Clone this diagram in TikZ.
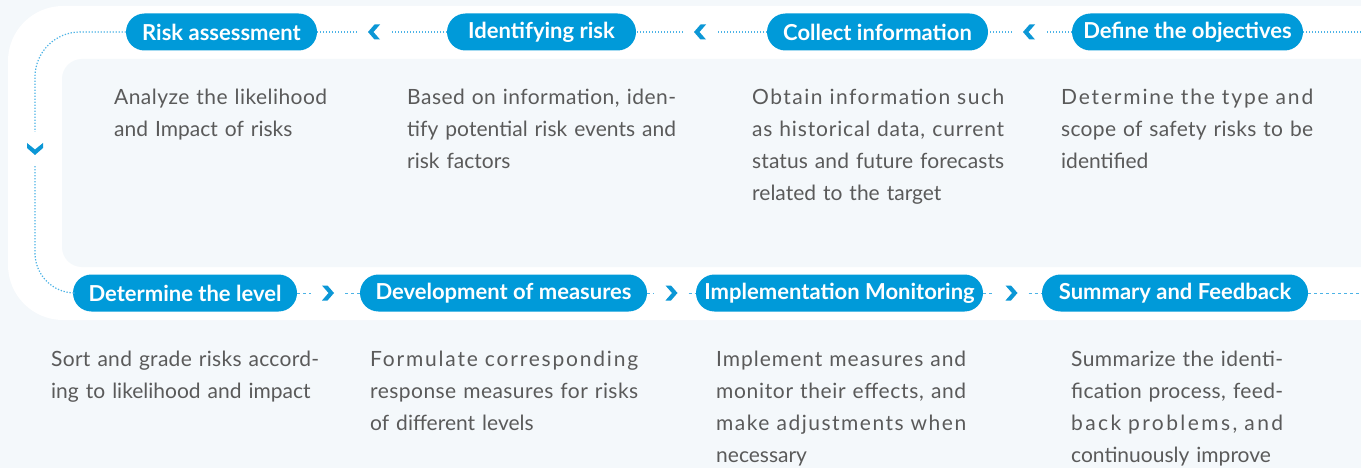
\documentclass[tikz,border=0pt]{standalone}
\usepackage{fontspec}
\setmainfont{Lato}
\definecolor{bgc}{HTML}{F4F8FB}
\definecolor{pillc}{HTML}{009AD9}
\definecolor{chevc}{HTML}{0B97D6}
\definecolor{linec}{HTML}{4CB3E6}
\definecolor{textc}{HTML}{5A5A5A}
\newlength\jlA
\newlength\jlB
\newcommand\JL[2]{%
  \settowidth\jlA{#2}%
  \settowidth\jlB{\addfontfeature{LetterSpace=10}#2}%
  \pgfmathsetmacro\jlls{max(0,10*(#1-\jlA)/(\jlB-\jlA))}%
  \leavevmode\hbox to #1pt{\addfontfeature{LetterSpace=\jlls}\spaceskip=0.26em plus 3em minus 0.05em\relax #2}}
\tikzset{
  pill/.style={fill=pillc, text=white, rounded corners=18.5, minimum height=37, inner sep=0,
    font=\fontsize{22}{26}\selectfont\bfseries},
  chevleft/.style={minimum width=34, minimum height=22, inner sep=0,
    path picture={\fill[chevc,shift={(path picture bounding box.center)}] (-6,0) -- (0.5,-7.5) -- (6,-7.5) -- (-0.5,0) -- (6,7.5) -- (0.5,7.5) -- cycle;}},
  chevright/.style={minimum width=34, minimum height=22, inner sep=0,
    path picture={\fill[chevc,shift={(path picture bounding box.center)}] (6,0) -- (-0.5,-7.5) -- (-6,-7.5) -- (0.5,0) -- (-6,7.5) -- (-0.5,7.5) -- cycle;}},
  chevdown/.style={minimum width=24, minimum height=34, inner sep=0,
    path picture={\fill[chevc,shift={(path picture bounding box.center)}] (-8,-6) -- (0,0.5) -- (8,-6) -- (8,-1) -- (0,6) -- (-8,-1) -- cycle;}},
  dotline/.style={draw=linec, line width=1.2, dash pattern=on 1.3pt off 1.7pt},
  dashline/.style={draw=linec, line width=0.9, dash pattern=on 3pt off 3pt},
  body/.style={anchor=base west, inner sep=0, align=left, text=textc,
    font=\fontsize{21}{32}\selectfont},
}
\begin{document}
\begin{tikzpicture}[x=1pt,y=-1pt]
\useasboundingbox (0,0) rectangle (1361,468);
\fill[bgc] (0,0) rectangle (1361,468);
\begin{scope}
\clip (0,0) rectangle (1361,468);
\fill[white, rounded corners=55] (8,6) rectangle (1420,320);
\fill[bgc, rounded corners=20] (62,59) rectangle (1420,267);
\end{scope}

% top row
\node[pill, minimum width=191] (ra) at (221.5,32) {Risk assessment};
\node[pill, minimum width=189] (ir) at (541.5,32) {Identifying risk};
\node[pill, minimum width=221] (ci) at (877.5,32) {Collect information};
\node[pill, minimum width=231] (do) at (1187.5,32) {Define the objectives};
\node[chevleft] (c1) at (374,32) {};
\node[chevleft] (c2) at (700,32) {};
\node[chevleft] (c3) at (1029,32) {};
\coordinate (re1) at (1361,32);

% bottom row
\node[pill, minimum width=224] (dl) at (185,293) {Determine the level};
\node[pill, minimum width=287] (dm) at (503.5,293) {Development of measures};
\node[pill, minimum width=287] (im) at (839.5,293) {Implementation Monitoring};
\node[pill, minimum width=266] (sf) at (1175,293) {Summary and Feedback};
\node[chevright] (c4) at (328,293) {};
\node[chevright] (c5) at (671.5,293) {};
\node[chevright] (c6) at (1011.5,293) {};
\coordinate (re2) at (1361,293);

\node[chevdown] (cd) at (35,149) {};

% connectors
\draw[dotline] (re1) -- (do.east);
\draw[dotline] (do.west) -- (c3.east);
\draw[dotline] (c3.west) -- (ci.east);
\draw[dotline] (ci.west) -- (c2.east);
\draw[dotline] (c2.west) -- (ir.east);
\draw[dotline] (ir.west) -- (c1.east);
\draw[dotline] (c1.west) -- (ra.east);
\draw[dotline, rounded corners=45] (ra.west) -| (cd.north);
\draw[dotline, rounded corners=40] (cd.south) |- (dl.west);
\draw[dashline] (dl.east) -- (c4.west);
\draw[dashline] (c4.east) -- (dm.west);
\draw[dashline] (dm.east) -- (c5.west);
\draw[dashline] (c5.east) -- (im.west);
\draw[dashline] (im.east) -- (c6.west);
\draw[dashline] (c6.east) -- (sf.west);
\draw[dashline] (sf.east) -- (re2);

% texts top
\node[body, text width=270] (t1) at (114,105) {\JL{213}{Analyze the likelihood}\\and Impact of risks};
\node[body, text width=280] (t2) at (407,105) {\JL{269}{Based on information, iden-}\\\JL{269}{tify potential risk events and}\\risk factors};
\node[body, text width=280] (t3) at (752,105) {\JL{252}{Obtain information such}\\\JL{252}{as historical data, current}\\\JL{252}{status and future forecasts}\\related to the target};
\node[body, text width=280] (t4) at (1061,105) {\JL{252}{Determine the type and}\\\JL{252}{scope of safety risks to be}\\identified};
% texts bottom
\node[body, text width=280] (t5) at (51,366) {\JL{268}{Sort and grade risks accord-}\\ing to likelihood and impact};
\node[body, text width=280] (t6) at (370,366) {\JL{268}{Formulate corresponding}\\\JL{268}{response measures for risks}\\of different levels};
\node[body, text width=280] (t7) at (716,366) {\JL{250}{Implement measures and}\\\JL{250}{monitor their effects, and}\\\JL{250}{make adjustments when}\\necessary};
\node[body, text width=280] (t8) at (1071,366) {\JL{212}{Summarize the identi-}\\\JL{212}{fication process, feed-}\\\JL{212}{back problems, and}\\continuously improve};
\end{tikzpicture}
\end{document}
